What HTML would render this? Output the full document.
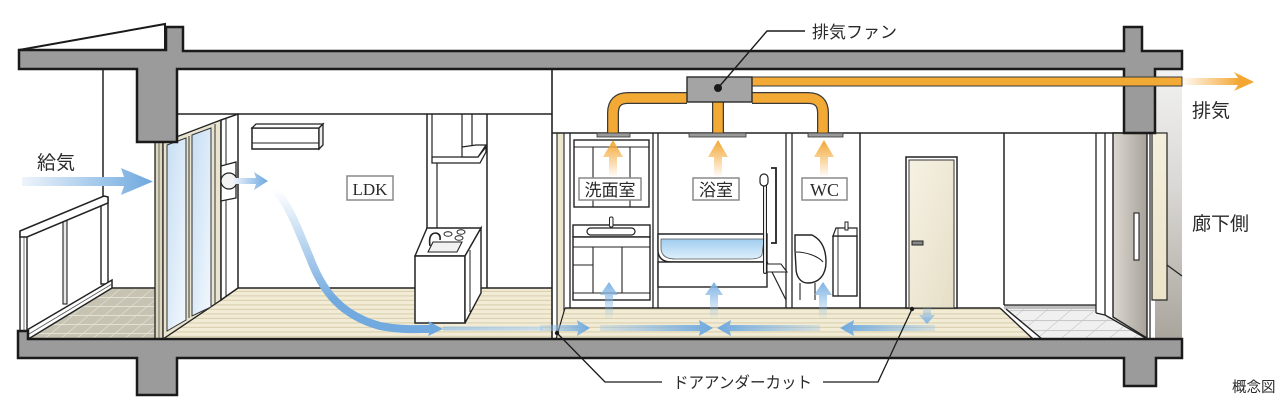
<!DOCTYPE html>
<html><head><meta charset="utf-8">
<style>
html,body{margin:0;padding:0;background:#fff;}
svg{display:block;}
.jp{font-family:"Liberation Sans","Noto Sans CJK JP",sans-serif;fill:#2a2a2a;}
.lat{font-family:"Liberation Serif","Noto Serif CJK SC",serif;fill:#2a2a2a;}
</style></head><body>
<svg width="1280" height="409" viewBox="0 0 1280 409" xmlns="http://www.w3.org/2000/svg">
<defs>
 <pattern id="wood" width="10" height="4.5" patternUnits="userSpaceOnUse">
   <rect width="10" height="4.5" fill="#f2ecd6"/>
   <rect y="2.8" width="10" height="1.2" fill="#dcd2b2"/>
 </pattern>
 <pattern id="btile" width="16" height="9" patternUnits="userSpaceOnUse" patternTransform="skewX(-50)">
   <rect width="16" height="9" fill="#c7c3b2"/>
   <path d="M0,0.5H16M0.5,0V9" stroke="#e3e0d4" stroke-width="1"/>
 </pattern>
 <pattern id="etile" width="24" height="10" patternUnits="userSpaceOnUse" patternTransform="skewX(-50)">
   <rect width="24" height="10" fill="#f0f0f0"/>
   <path d="M0,0.5H24M0.5,0V10" stroke="#c8c8c8" stroke-width="1"/>
 </pattern>
 <linearGradient id="gBlueH" x1="0" y1="0" x2="1" y2="0">
   <stop offset="0" stop-color="#eef4fb"/><stop offset="0.75" stop-color="#8dbbe6"/><stop offset="1" stop-color="#6ea8de"/>
 </linearGradient>
 <linearGradient id="gCurve" gradientUnits="userSpaceOnUse" x1="0" y1="190" x2="0" y2="300">
   <stop offset="0" stop-color="#ffffff"/><stop offset="1" stop-color="#72aadf"/>
 </linearGradient>
 <linearGradient id="gLine" x1="0" y1="0" x2="1" y2="0">
   <stop offset="0" stop-color="#8ebde8"/><stop offset="1" stop-color="#b9d6f0"/>
 </linearGradient>
 <linearGradient id="gUp" x1="0" y1="0" x2="0" y2="1">
   <stop offset="0" stop-color="#7fb3e3"/><stop offset="1" stop-color="#7fb3e3" stop-opacity="0"/>
 </linearGradient>
 <linearGradient id="gDown" x1="0" y1="0" x2="0" y2="1">
   <stop offset="0" stop-color="#7fb3e3" stop-opacity="0.2"/><stop offset="1" stop-color="#7fb3e3"/>
 </linearGradient>
 <linearGradient id="gR" x1="0" y1="0" x2="1" y2="0">
   <stop offset="0" stop-color="#8fbde8" stop-opacity="0.3"/><stop offset="1" stop-color="#6fa9df"/>
 </linearGradient>
 <linearGradient id="gL" x1="1" y1="0" x2="0" y2="0">
   <stop offset="0" stop-color="#8fbde8" stop-opacity="0.3"/><stop offset="1" stop-color="#6fa9df"/>
 </linearGradient>
 <linearGradient id="gOrUp" x1="0" y1="0" x2="0" y2="1">
   <stop offset="0" stop-color="#f3a632"/><stop offset="1" stop-color="#f3a632" stop-opacity="0.05"/>
 </linearGradient>
 <linearGradient id="gExh" gradientUnits="userSpaceOnUse" x1="1182" y1="0" x2="1240" y2="0">
   <stop offset="0" stop-color="#f3a632" stop-opacity="0.05"/><stop offset="1" stop-color="#f3a632"/>
 </linearGradient>
 <linearGradient id="gGlass" x1="0" y1="0" x2="1" y2="1">
   <stop offset="0" stop-color="#c7def4"/><stop offset="1" stop-color="#f2f8fd"/>
 </linearGradient>
 <linearGradient id="gWater" x1="0" y1="0" x2="0" y2="1">
   <stop offset="0" stop-color="#9fcdef"/><stop offset="1" stop-color="#dff0fb"/>
 </linearGradient>
 <linearGradient id="gDoor" x1="0" y1="0" x2="1" y2="1">
   <stop offset="0" stop-color="#f6f2e4"/><stop offset="1" stop-color="#e6dec6"/>
 </linearGradient>
 <linearGradient id="gFront" x1="0" y1="0" x2="1" y2="0">
   <stop offset="0" stop-color="#dcd8d1"/><stop offset="1" stop-color="#a7a299"/>
 </linearGradient>
 <linearGradient id="gCorr" x1="0" y1="0" x2="0" y2="1">
   <stop offset="0" stop-color="#f2f2f2"/><stop offset="0.45" stop-color="#d9d7d3"/><stop offset="1" stop-color="#a9a59d"/>
 </linearGradient>
 <linearGradient id="gPanel" x1="0" y1="0" x2="0" y2="1">
   <stop offset="0" stop-color="#f4efdc"/><stop offset="1" stop-color="#ece4c8"/>
 </linearGradient>
</defs>

<!-- corridor side gradient -->
<rect x="1155" y="69" width="27" height="270" fill="url(#gCorr)"/>

<!-- ============ BALCONY ============ -->
<line x1="103" y1="69" x2="103" y2="200" stroke="#222" stroke-width="1.5"/>
<polygon points="30,339 157,339 157,288 112,288" fill="url(#btile)"/>
<line x1="112" y1="288" x2="157" y2="288" stroke="#222" stroke-width="1.4"/>
<!-- railing -->
<polygon points="27,236 104,200 104,285 27,330" fill="#fff"/>
<rect x="20" y="232" width="7" height="100" fill="#fff" stroke="#222" stroke-width="1.4"/>
<line x1="24" y1="236" x2="24" y2="330" stroke="#555" stroke-width="0.8"/>
<rect x="101" y="198" width="7" height="86" fill="#fff" stroke="#222" stroke-width="1.4"/>
<rect x="63" y="216" width="4" height="88" fill="#e8e8e8" stroke="#222" stroke-width="1.1"/>
<polygon points="20,231 104,196 108,197 108,203 27,237 20,237" fill="#fff" stroke="#222" stroke-width="1.5"/>
<polygon points="27,330 112,280 112,288 30,338 27,338" fill="#fff" stroke="#222" stroke-width="1.5"/>
<line x1="29" y1="334" x2="112" y2="284" stroke="#555" stroke-width="0.8"/>

<!-- ============ LDK ============ -->
<line x1="177" y1="114" x2="552" y2="114" stroke="#222" stroke-width="1.6"/>
<polygon points="163,339 221,300 238,288 552,288 552,339" fill="url(#wood)"/>
<line x1="238" y1="288" x2="552" y2="288" stroke="#222" stroke-width="1.6"/>
<line x1="163" y1="339" x2="221" y2="300" stroke="#222" stroke-width="1.2"/>
<!-- window -->
<rect x="155" y="142" width="8" height="197" fill="#dcd6bf" stroke="#222" stroke-width="1.3"/>
<line x1="159" y1="142" x2="159" y2="339" stroke="#555" stroke-width="0.8"/>
<polygon points="163,142 221,120 221,300 163,339" fill="#e9e4d0" stroke="#222" stroke-width="1.3"/>
<polygon points="167,145 186,138 186,320 167,331" fill="url(#gGlass)" stroke="#333" stroke-width="1"/>
<polygon points="192,135 211,128 211,307 192,316" fill="url(#gGlass)" stroke="#333" stroke-width="1"/>
<line x1="189" y1="136" x2="189" y2="318" stroke="#333" stroke-width="1"/>
<line x1="215" y1="124" x2="215" y2="304" stroke="#333" stroke-width="1"/>
<!-- wall return -->
<polygon points="221,120 238,114 238,288 221,300" fill="#fff" stroke="#222" stroke-width="1.5"/>
<line x1="226" y1="119" x2="226" y2="297" stroke="#222" stroke-width="1"/>
<!-- vent -->
<polygon points="221,166 236,162 236,198 221,201" fill="#fff" stroke="#222" stroke-width="1.3"/>
<circle cx="229" cy="181" r="8" fill="#f4f4f4" stroke="#222" stroke-width="1.2"/>
<!-- AC -->
<polygon points="252,128 319,128 319,149 252,149" fill="#fff" stroke="#222" stroke-width="1.5"/>
<polygon points="252,128 256,124 323,124 319,128" fill="#fff" stroke="#222" stroke-width="1.3"/>
<polygon points="319,128 323,124 323,145 319,149" fill="#eee" stroke="#222" stroke-width="1.3"/>
<line x1="252" y1="143" x2="319" y2="143" stroke="#222" stroke-width="1.1"/>
<!-- kitchen tall unit / hood -->
<line x1="427" y1="114" x2="427" y2="288" stroke="#222" stroke-width="1.5"/>
<line x1="432" y1="114" x2="432" y2="157" stroke="#222" stroke-width="1.2"/>
<line x1="437" y1="163" x2="437" y2="288" stroke="#222" stroke-width="1.2"/>
<line x1="487" y1="114" x2="487" y2="288" stroke="#222" stroke-width="1.5"/>
<line x1="462" y1="114" x2="462" y2="147" stroke="#222" stroke-width="1.2"/>
<line x1="472" y1="114" x2="472" y2="145" stroke="#222" stroke-width="1.2"/>
<polygon points="432,157 478,157 486,147 486,152 480,163 432,163" fill="#fff" stroke="#222" stroke-width="1.3"/>
<polygon points="462,147 476,145 486,145 478,157 462,157" fill="#fff" stroke="#222" stroke-width="1.2"/>
<!-- island -->
<polygon points="415,256 427,228 481,228 465,256" fill="#fff" stroke="#222" stroke-width="1.4"/>
<rect x="415" y="256" width="50" height="67" fill="#fff" stroke="#222" stroke-width="1.5"/>
<polygon points="465,256 481,228 481,293 465,323" fill="#fff" stroke="#222" stroke-width="1.4"/>
<line x1="470" y1="250" x2="470" y2="312" stroke="#222" stroke-width="1"/>
<polygon points="428,252 433,242 462,242 457,252" fill="#f2f2f2" stroke="#222" stroke-width="1.1"/>
<path d="M430,246 Q428,233 436,233 Q441,234 440,240" fill="none" stroke="#222" stroke-width="1.6"/>
<ellipse cx="448" cy="234" rx="4" ry="2.3" fill="none" stroke="#222" stroke-width="1"/>
<ellipse cx="461" cy="232" rx="4" ry="2.3" fill="none" stroke="#222" stroke-width="1"/>
<ellipse cx="459" cy="238" rx="4" ry="2.3" fill="none" stroke="#222" stroke-width="1"/>
<!-- LDK label -->
<rect x="347" y="176" width="46" height="24" fill="#fff" stroke="#8a8a8a" stroke-width="1.5"/>
<text x="370" y="195" class="lat" font-size="17" text-anchor="middle">LDK</text>

<!-- ============ PARTITION LDK / wet ============ -->
<line x1="552" y1="69" x2="552" y2="339" stroke="#222" stroke-width="1.6"/>
<rect x="557" y="133" width="7" height="206" fill="#ece6cf"/>
<line x1="557" y1="133" x2="557" y2="339" stroke="#222" stroke-width="1.1"/>
<line x1="564" y1="133" x2="564" y2="339" stroke="#222" stroke-width="1.1"/>
<line x1="552" y1="133" x2="1124" y2="133" stroke="#222" stroke-width="1.6"/>

<!-- ============ WET ROOMS ============ -->
<polygon points="565,308 1000,308 1033,339 556,339" fill="url(#wood)"/>
<line x1="565" y1="308" x2="1000" y2="308" stroke="#222" stroke-width="1.6"/>
<line x1="565" y1="308" x2="556" y2="339" stroke="#222" stroke-width="1.2"/>
<line x1="570" y1="133" x2="570" y2="308" stroke="#222" stroke-width="1.3"/>
<line x1="653" y1="133" x2="653" y2="308" stroke="#222" stroke-width="1.3"/>
<line x1="658" y1="133" x2="658" y2="308" stroke="#222" stroke-width="1.3"/>
<line x1="786" y1="133" x2="786" y2="308" stroke="#222" stroke-width="1.3"/>
<line x1="792" y1="133" x2="792" y2="308" stroke="#222" stroke-width="1.3"/>
<line x1="860" y1="133" x2="860" y2="308" stroke="#222" stroke-width="1.5"/>
<!-- washroom -->
<rect x="574" y="140" width="75" height="67" fill="#fff" stroke="#222" stroke-width="1.4"/>
<line x1="574" y1="147" x2="649" y2="147" stroke="#222" stroke-width="1.1"/>
<line x1="593" y1="147" x2="593" y2="207" stroke="#222" stroke-width="1.1"/>
<line x1="630" y1="147" x2="630" y2="207" stroke="#222" stroke-width="1.1"/>
<rect x="573" y="225" width="77" height="12" fill="#fff" stroke="#222" stroke-width="1.4"/>
<rect x="587" y="228" width="48" height="7" rx="3.5" fill="#fff" stroke="#222" stroke-width="1.2"/>
<rect x="609.5" y="217" width="3.5" height="10" rx="1.5" fill="#fff" stroke="#222" stroke-width="1"/>
<rect x="573" y="237" width="77" height="63" fill="#fff" stroke="#222" stroke-width="1.4"/>
<line x1="573" y1="247" x2="650" y2="247" stroke="#222" stroke-width="1.1"/>
<line x1="593" y1="247" x2="593" y2="293" stroke="#222" stroke-width="1.1"/>
<line x1="622" y1="247" x2="622" y2="293" stroke="#222" stroke-width="1.1"/>
<line x1="573" y1="265" x2="593" y2="265" stroke="#222" stroke-width="1.1"/>
<line x1="573" y1="293" x2="650" y2="293" stroke="#222" stroke-width="1.1"/>
<!-- bath -->
<path d="M658,234 L767,234 L767,262 L672,262 Q658,262 658,250 Z" fill="#fff" stroke="#222" stroke-width="1.4"/>
<path d="M661,239 L764,239 L762,255 Q760,259 750,259 L675,259 Q662,259 661,249 Z" fill="url(#gWater)" stroke="#555" stroke-width="0.8"/>
<rect x="658" y="262" width="109" height="25" fill="#fff" stroke="#222" stroke-width="1.4"/>
<line x1="767" y1="262" x2="786" y2="300" stroke="#222" stroke-width="1.2"/>
<polygon points="767,264 781,264 787,272 767,272" fill="#fff" stroke="#222" stroke-width="1.1"/>
<path d="M765,182 L765,272" stroke="#222" stroke-width="4" stroke-linecap="round"/>
<path d="M765,182 L765,272" stroke="#fff" stroke-width="1.8" stroke-linecap="round"/>
<rect x="760" y="174" width="8" height="12" rx="4" fill="#fff" stroke="#222" stroke-width="1.2"/>
<path d="M771,168 L776,168 L776,243 L771,243" fill="none" stroke="#222" stroke-width="1.8"/>
<!-- WC -->
<path d="M795,235 L812,235 C822,240 826,250 826,262 C826,276 818,283 808,283 C800,283 796,276 796,268 L795,250 Z" fill="#fff" stroke="#222" stroke-width="1.4"/>
<path d="M796,252 C806,252 818,256 823,262" fill="none" stroke="#222" stroke-width="1"/>
<line x1="800" y1="283" x2="800" y2="300" stroke="#222" stroke-width="1.1"/>
<line x1="815" y1="283" x2="815" y2="300" stroke="#222" stroke-width="1.1"/>
<rect x="833" y="236" width="24" height="60" fill="#fff" stroke="#222" stroke-width="1.4"/>
<polygon points="833,236 836,228 857,228 857,236" fill="#fff" stroke="#222" stroke-width="1.2"/>
<rect x="845" y="222" width="3" height="8" fill="#fff" stroke="#222" stroke-width="1"/>
<line x1="838" y1="228" x2="838" y2="296" stroke="#222" stroke-width="0.9"/>
<!-- hall door -->
<rect x="906" y="157" width="51" height="151" fill="#fff" stroke="#222" stroke-width="1.5"/>
<rect x="909" y="160" width="45" height="148" fill="url(#gDoor)" stroke="#333" stroke-width="1"/>
<rect x="912" y="241" width="11" height="4" fill="#888" stroke="#222" stroke-width="1"/>
<!-- entrance -->
<line x1="1004" y1="133" x2="1004" y2="305" stroke="#222" stroke-width="1.5"/>
<polygon points="1004,305 1096,305 1096,313 1113,318 1147,339 1042,339 1007,309" fill="url(#etile)"/>
<rect x="1004" y="305" width="92" height="4" fill="#bdbdbd"/>
<line x1="1004" y1="305" x2="1096" y2="305" stroke="#222" stroke-width="1.3"/>
<line x1="1000" y1="308" x2="1033" y2="339" stroke="#222" stroke-width="1.4"/>
<line x1="1006" y1="309" x2="1042" y2="339" stroke="#222" stroke-width="1.4"/>
<line x1="1096" y1="133" x2="1096" y2="313" stroke="#222" stroke-width="1.3"/>
<line x1="1105" y1="133" x2="1105" y2="315" stroke="#222" stroke-width="1.3"/>
<line x1="1096" y1="313" x2="1105" y2="315" stroke="#222" stroke-width="1.2"/>
<polygon points="1113,133 1147,133 1147,338 1113,317" fill="url(#gFront)" stroke="#222" stroke-width="1.4"/>
<line x1="1105" y1="315" x2="1147" y2="339" stroke="#222" stroke-width="1.3"/>
<rect x="1134" y="213" width="5" height="47" fill="#fff" stroke="#222" stroke-width="1.1"/>
<line x1="1150" y1="133" x2="1150" y2="339" stroke="#222" stroke-width="1.2"/>
<rect x="1152" y="133" width="15" height="167" fill="url(#gPanel)" stroke="#222" stroke-width="1.2"/>
<line x1="1167" y1="265" x2="1182" y2="276" stroke="#222" stroke-width="1.2"/>

<!-- ============ BLUE AIR FLOW ============ -->
<path d="M22,177 L124,177 L121,168 L153,181.5 L121,195 L124,186 L22,186 Z" fill="url(#gBlueH)"/>
<path d="M233,178 L256,178 L254,172 L268,181 L254,190 L256,184 L233,184 Z" fill="url(#gBlueH)"/>
<path d="M276,190 C292,210 300,235 310,258 C322,290 340,315 380,326 C400,330 415,329 430,329" fill="none" stroke="url(#gCurve)" stroke-width="8" stroke-linecap="round"/>
<polygon points="428,321 443,329 428,336 431,329" fill="#6ea8de"/>
<rect x="443" y="326.5" width="100" height="4" fill="url(#gLine)" opacity="0.7"/>
<!-- corridor arrows -->
<path d="M540,325 L578,325 L577,320 L590,328 L577,336 L578,331 L540,331 Z" fill="url(#gR)"/>
<path d="M600,325 L700,325 L699,320 L713,328 L699,336 L700,331 L600,331 Z" fill="url(#gR)"/>
<path d="M820,325 L730,325 L731,320 L717,328 L731,336 L730,331 L820,331 Z" fill="url(#gL)"/>
<path d="M935,325 L853,325 L854,320 L840,328 L854,336 L853,331 L935,331 Z" fill="url(#gL)"/>
<!-- up arrows -->
<path d="M605,295 L600,295 L609,282 L618,295 L613,295 L613,320 L605,320 Z" fill="url(#gUp)"/>
<path d="M710,295 L705,295 L714,282 L723,295 L718,295 L718,320 L710,320 Z" fill="url(#gUp)"/>
<path d="M819,295 L814,295 L823,282 L832,295 L827,295 L827,320 L819,320 Z" fill="url(#gUp)"/>
<path d="M923,308 L931,308 L931,315 L935,315 L927,324 L919,315 L923,315 Z" fill="url(#gDown)"/>

<!-- ============ STRUCTURE ============ -->
<path d="M19,50 L165,24 L165,50" fill="#fff" stroke="#1a1a1a" stroke-width="2"/>
<path d="M19,50 L166,50 L166,27 L183,27 L183,51 L1124,51 L1124,27 L1142,27 L1142,51 L1182,51 L1182,69 L1155,69 L1155,133 L1124,133 L1124,69 L177,69 L177,142 L137,142 L137,69 L19,69 Z" fill="#9b9b9b" stroke="#1a1a1a" stroke-width="2.5" stroke-linejoin="miter"/>
<path d="M18,331 L28,331 L28,339 L1182,339 L1182,358 L1156,358 L1156,386 L1124,386 L1124,358 L177,358 L177,395 L137,395 L137,358 L18,358 Z" fill="#9b9b9b" stroke="#1a1a1a" stroke-width="2.5"/>

<!-- ============ DUCTS ============ -->
<g fill="none" stroke-linecap="butt">
 <path d="M687,98 L628,98 Q613,98 613,113 L613,133" stroke="#3a3a3a" stroke-width="12"/>
 <path d="M687,98 L628,98 Q613,98 613,113 L613,133" stroke="#f3aa35" stroke-width="9.5"/>
 <path d="M752,98 L808,98 Q823,98 823,113 L823,133" stroke="#3a3a3a" stroke-width="12"/>
 <path d="M752,98 L808,98 Q823,98 823,113 L823,133" stroke="#f3aa35" stroke-width="9.5"/>
 <path d="M718,100 L718,133" stroke="#3a3a3a" stroke-width="12"/>
 <path d="M718,100 L718,133" stroke="#f3aa35" stroke-width="9.5"/>
</g>
<rect x="752" y="77" width="430" height="9" fill="#f3aa35" stroke="#3a3a3a" stroke-width="1"/>
<rect x="687" y="77" width="65" height="25" fill="#a4a4a4" stroke="#2a2a2a" stroke-width="1.4"/>
<circle cx="718" cy="88" r="4" fill="#1a1a1a"/>
<!-- grilles -->
<rect x="597" y="133" width="33" height="4" fill="#9a9a9a" stroke="#333" stroke-width="0.8"/>
<rect x="689" y="133" width="57" height="4" fill="#9a9a9a" stroke="#333" stroke-width="0.8"/>
<rect x="808" y="133" width="35" height="4" fill="#9a9a9a" stroke="#333" stroke-width="0.8"/>
<!-- orange up arrows -->
<path d="M609,157 L603,157 L613,140 L623,157 L617,157 L617,176 L609,176 Z" fill="url(#gOrUp)"/>
<path d="M714,157 L708,157 L718,140 L728,157 L722,157 L722,176 L714,176 Z" fill="url(#gOrUp)"/>
<path d="M820,157 L814,157 L824,140 L834,157 L828,157 L828,176 L820,176 Z" fill="url(#gOrUp)"/>
<!-- exhaust arrow -->
<path d="M1182,78 L1238,78 L1234,72 L1254,82 L1234,91 L1238,85 L1182,85 Z" fill="url(#gExh)"/>

<!-- ============ LABELS ============ -->
<rect x="579" y="178" width="62" height="22" fill="#fff" stroke="#8a8a8a" stroke-width="1.5"/>
<text x="610" y="196" class="jp" font-size="17" text-anchor="middle">洗面室</text>
<rect x="693" y="178" width="46" height="22" fill="#fff" stroke="#8a8a8a" stroke-width="1.5"/>
<text x="716" y="196" class="jp" font-size="17" text-anchor="middle">浴室</text>
<rect x="802" y="178" width="45" height="22" fill="#fff" stroke="#8a8a8a" stroke-width="1.5"/>
<text x="824.5" y="196" class="lat" font-size="18" text-anchor="middle">WC</text>

<text x="37" y="169" class="jp" font-size="19">給気</text>
<text x="1192" y="117" class="jp" font-size="19">排気</text>
<text x="1192" y="230" class="jp" font-size="19">廊下側</text>
<text x="1232" y="392" class="jp" font-size="14.5">概念図</text>

<polyline points="718,88 767,31 805,31" fill="none" stroke="#1a1a1a" stroke-width="1.4"/>
<text x="812" y="38" class="jp" font-size="17">排気ファン</text>

<polyline points="557,333 605,382 662,382" fill="none" stroke="#1a1a1a" stroke-width="1.3"/>
<polyline points="823,382 878,382 912,309" fill="none" stroke="#1a1a1a" stroke-width="1.3"/>
<circle cx="557" cy="333" r="2.2" fill="#1a1a1a"/>
<circle cx="912" cy="309" r="2.2" fill="#1a1a1a"/>
<text x="673" y="388" class="jp" font-size="16" textLength="139" lengthAdjust="spacingAndGlyphs">ドアアンダーカット</text>
</svg>
</body></html>
